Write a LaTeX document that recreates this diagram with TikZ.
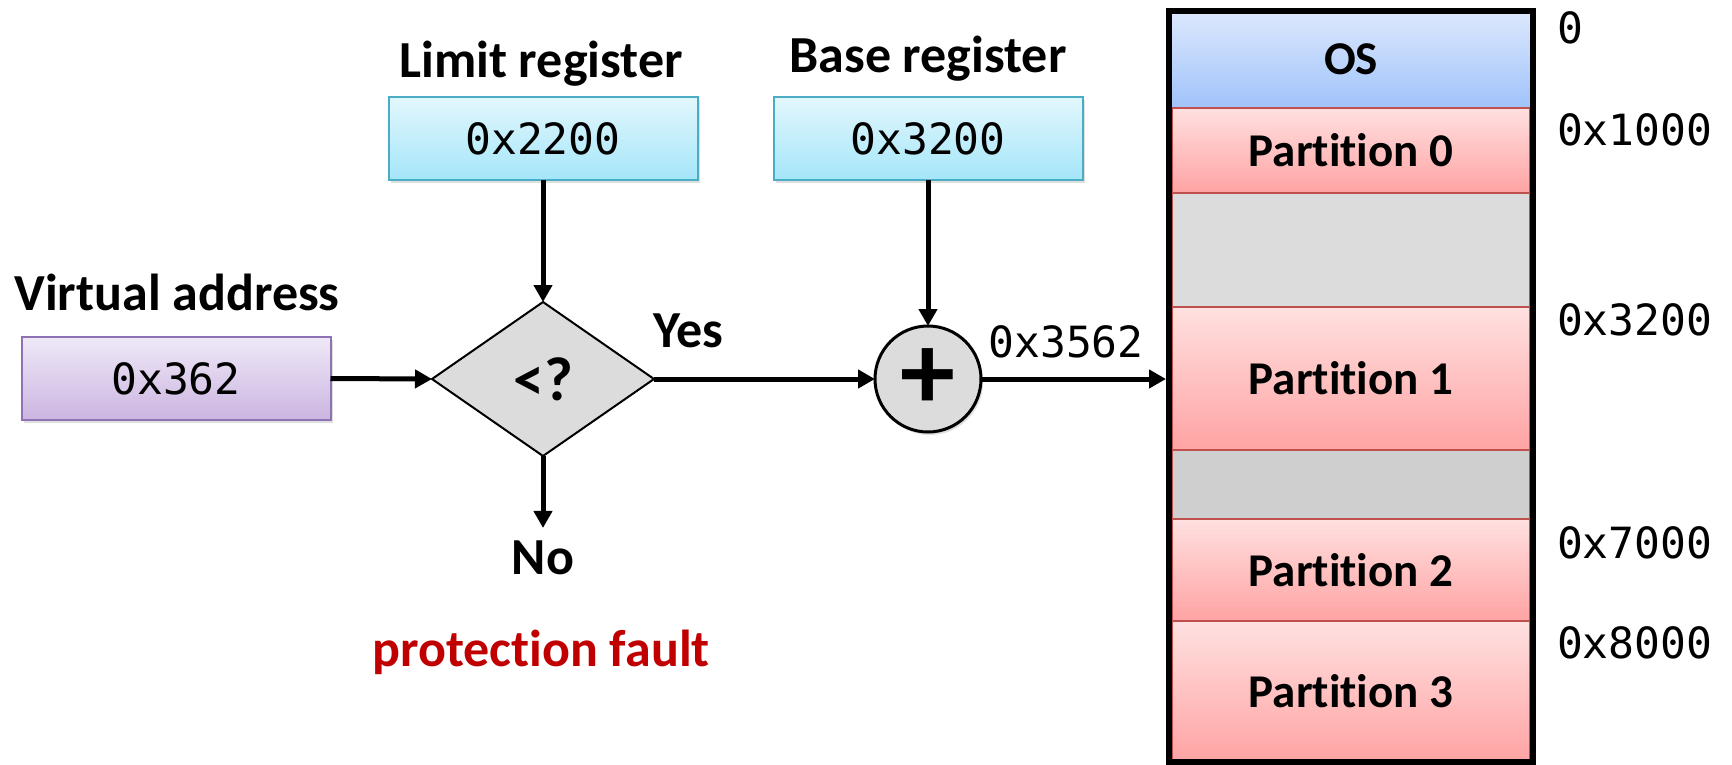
\documentclass[tikz,border=0pt]{standalone}
\usepackage{fontspec}
\setmainfont{Carlito}[Ligatures={NoCommon,NoContextual,NoRare}]
\setmonofont{DejaVu Sans Mono}
\usetikzlibrary{arrows.meta,shapes.geometric,shadows}

% keeps "t" and "i" as separate glyphs
\newcommand\tisep{t\kern0pt i}

\definecolor{regline}{HTML}{4BACC6}
\definecolor{regtop}{HTML}{E3F7FD}
\definecolor{regbot}{HTML}{A4E6F9}
\definecolor{vaLine}{HTML}{8E72B4}
\definecolor{vaTop}{HTML}{EFE9F7}
\definecolor{vaBot}{HTML}{CBB5E1}
\definecolor{osTop}{HTML}{DCE8FD}
\definecolor{osBot}{HTML}{A0C3FA}
\definecolor{ptTop}{HTML}{FFE0E0}
\definecolor{ptBot}{HTML}{FFA3A3}
\definecolor{ptLine}{HTML}{C0504D}
\definecolor{freeA}{HTML}{DCDCDC}
\definecolor{freeB}{HTML}{CFCFCF}
\definecolor{opGray}{HTML}{DCDCDC}
\definecolor{faultRed}{HTML}{C00000}

\begin{document}
\begin{tikzpicture}[x=1pt,y=-1pt,
  every node/.style={inner sep=0pt,outer sep=0pt},
  head/.style={font=\fontsize{52}{60}\selectfont\bfseries},
  addr/.style={font=\fontsize{43}{50}\selectfont\ttfamily},
  softshadow/.style={drop shadow={opacity=0.25,shadow xshift=2pt,shadow yshift=-3pt}},
  regbox/.style={draw=regline,line width=2pt,top color=regtop,bottom color=regbot,
    minimum width=309pt,minimum height=83pt,addr,softshadow},
  vabox/.style={draw=vaLine,line width=2pt,top color=vaTop,bottom color=vaBot,
    minimum width=309pt,minimum height=83pt,addr,softshadow},
  section/.style={minimum width=358pt,font=\fontsize{47}{55}\selectfont\bfseries},
  partbox/.style={section,draw=ptLine,line width=2.5pt,top color=ptTop,bottom color=ptBot},
  osbox/.style={section,top color=osTop,bottom color=osBot},
  freebox/.style={section,draw=ptLine,line width=2.5pt,fill=#1},
  memlabel/.style={addr,anchor=west},
  conn/.style={line width=5pt,-{Triangle[length=17pt,width=18pt]}},
]
\useasboundingbox (0,0) rectangle (1732,764);

% registers and virtual address
\node[head,anchor=base] (limlab) at (541,77) {Limit register};
\node[regbox] (lim) at (543,138.5) {0x2200};
\node[head,anchor=base] (baselab) at (928,72) {Base register};
\node[regbox] (base) at (928,138.5) {0x3200};
\node[head,anchor=base] (valab) at (177,310) {Virtual address};
\node[vabox] (va) at (176,378.5) {0x362};

% comparison and addition
\node[diamond,draw,line width=2pt,fill=opGray,minimum width=222pt,minimum height=154pt,
  aspect=1.44,font=\fontsize{62}{70}\selectfont\bfseries] (cmp) at (543,379) {<?};
\node[circle,draw,line width=3pt,fill=opGray,minimum size=106pt,softshadow] (plus) at (928,379) {};
\node[font=\fontsize{110}{110}\selectfont\bfseries] (plussign) at (928,379) {+};

\node[head] (yes) at (688,331) {Yes};
\node[addr] (sum) at (1066,342) {0x3562};
\node[head] (no) at (543,558) {No};
\node[head,text=faultRed] (fault) at (541,652) {protec\tisep on fault};

% physical memory
\node[osbox,minimum height=97pt] (os) at (1351,59.5) {OS};
\node[partbox,minimum height=85pt] (p0) at (1351,150.5) {Par\tisep\tisep on 0};
\node[freebox=freeA,minimum height=114pt] (free0) at (1351,250) {};
\node[partbox,minimum height=143pt] (p1) at (1351,378.5) {Par\tisep\tisep on 1};
\node[freebox=freeB,minimum height=69pt] (free1) at (1351,484.5) {};
\node[partbox,minimum height=102pt] (p2) at (1351,570) {Par\tisep\tisep on 2};
\node[partbox,minimum height=141pt] (p3) at (1351,691.5) {Par\tisep\tisep on 3};
\node[draw,line width=6pt,minimum width=364pt,minimum height=751pt] (mem) at (1351,386.5) {};

\node[memlabel] (a0) at (1557,28) {0};
\node[memlabel] (a1) at (1557,130) {0x1000};
\node[memlabel] (a2) at (1557,320) {0x3200};
\node[memlabel] (a3) at (1557,543) {0x7000};
\node[memlabel] (a4) at (1557,643) {0x8000};

% connectors
\draw[conn] (va.east) -- (cmp.west);
\draw[conn] (lim.south) -- (cmp.north);
\draw[conn] (base.south) -- (plus.north);
\draw[conn] (cmp.east) -- (plus.west);
\draw[conn,shorten >=13pt] (cmp.south) -- (no.north);
\draw[conn,shorten >=3pt] (plus.east) -- (mem.west |- plus);
\end{tikzpicture}
\end{document}
